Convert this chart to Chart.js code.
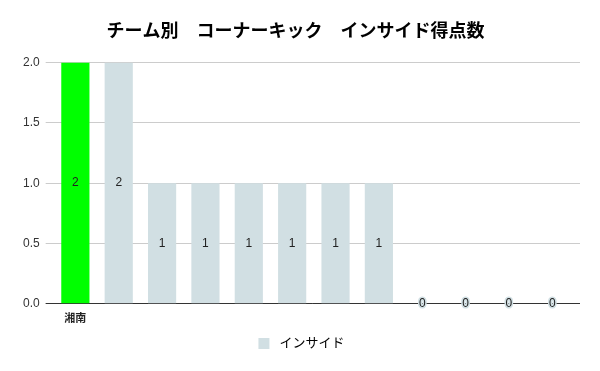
<!DOCTYPE html>
<html>
<head>
<meta charset="utf-8">
<script src="https://cdn.jsdelivr.net/npm/chart.js@4.4.1/dist/chart.umd.min.js"></script>
<style>
  html, body { margin: 0; padding: 0; background: #fff; }
  canvas { display: block; }
</style>
</head>
<body>
<canvas id="myChart" width="600" height="371"></canvas>
<script>
const labels = ['湘南', '', '', '', '', '', '', '', '', '', '', ''];
const insideGoals = [2, 2, 1, 1, 1, 1, 1, 1, 0, 0, 0, 0];
const barColors = ['#00ff00', '#d1dfe3', '#d1dfe3', '#d1dfe3', '#d1dfe3', '#d1dfe3',
  '#d1dfe3', '#d1dfe3', '#d1dfe3', '#d1dfe3', '#d1dfe3', '#d1dfe3'];
const yTicks = [0, 0.5, 1, 1.5, 2];

const FONT = '"Liberation Sans", Arial, "Noto Sans CJK JP", sans-serif';

// extend gridlines a little past the right edge, like the original
const gridExtend = {
  id: 'gridExtend',
  afterLayout(chart) {
    // centre the legend on the canvas rather than the padded box
    chart.legend.left += 6;
    chart.legend.right += 6;
  },
  beforeDatasetsDraw(chart) {
    const { ctx, chartArea, scales } = chart;
    ctx.save();
    ctx.lineWidth = 1;
    yTicks.forEach(v => {
      const y = Math.round(scales.y.getPixelForValue(v) - 0.5) + 0.5;
      ctx.strokeStyle = v === 0 ? '#333333' : '#cccccc';
      ctx.beginPath();
      ctx.moveTo(v === 0 ? chartArea.left - 8 : chartArea.right, y);
      ctx.lineTo(chartArea.right + 6, y);
      ctx.stroke();
    });
    ctx.restore();
  }
};

// value labels in the middle of each bar
const barLabels = {
  id: 'barLabels',
  afterDatasetsDraw(chart) {
    const { ctx } = chart;
    const meta = chart.getDatasetMeta(0);
    ctx.save();
    ctx.font = '12px ' + FONT;
    ctx.textAlign = 'center';
    ctx.textBaseline = 'middle';
    meta.data.forEach((bar, i) => {
      const v = insideGoals[i];
      const y = (bar.y + bar.base) / 2;
      if (v === 0) {
        ctx.lineWidth = 3;
        ctx.strokeStyle = '#d1dfe3';
        ctx.strokeText(String(v), bar.x, y);
      }
      ctx.fillStyle = '#222222';
      ctx.fillText(String(v), bar.x, y);
    });
    ctx.restore();
  }
};

const ctx = document.getElementById('myChart');
const myChart = new Chart(ctx, {
  type: 'bar',
  data: {
    labels: labels,
    datasets: [{
      label: 'インサイド',
      data: insideGoals,
      backgroundColor: barColors,
      borderWidth: 0,
      barPercentage: 0.65,
      categoryPercentage: 1.0
    }]
  },
  options: {
    responsive: false,
    animation: false,
    layout: { padding: { left: 17, right: 26, top: 0, bottom: 11 } },
    plugins: {
      title: {
        display: true,
        text: 'チーム別　コーナーキック　インサイド得点数',
        color: '#000000',
        font: { family: FONT, size: 18, weight: 'bold' },
        padding: { top: 21, bottom: 20 }
      },
      legend: {
        position: 'bottom',
        labels: {
          boxWidth: 11,
          boxHeight: 11,
          color: '#222222',
          font: { family: FONT, size: 13 },
          generateLabels: () => [{
            text: ' インサイド',
            fillStyle: '#d1dfe3',
            strokeStyle: '#d1dfe3',
            lineWidth: 0,
            datasetIndex: 0
          }]
        }
      },
      tooltip: { enabled: false }
    },
    scales: {
      x: {
        grid: { display: false },
        border: { display: false },
        ticks: {
          color: '#222222',
          font: { family: FONT, size: 11, weight: 'bold' },
          maxRotation: 0,
          autoSkip: false,
          padding: 1
        }
      },
      y: {
        min: 0,
        max: 2,
        afterBuildTicks: axis => { axis.ticks = yTicks.map(v => ({ value: v })); },
        grid: { color: '#cccccc', tickLength: 8, drawTicks: true },
        border: { display: false },
        ticks: {
          color: '#333333',
          font: { family: FONT, size: 12 },
          padding: 6,
          callback: v => Number(v).toFixed(1)
        }
      }
    }
  },
  plugins: [gridExtend, barLabels]
});
</script>
</body>
</html>
